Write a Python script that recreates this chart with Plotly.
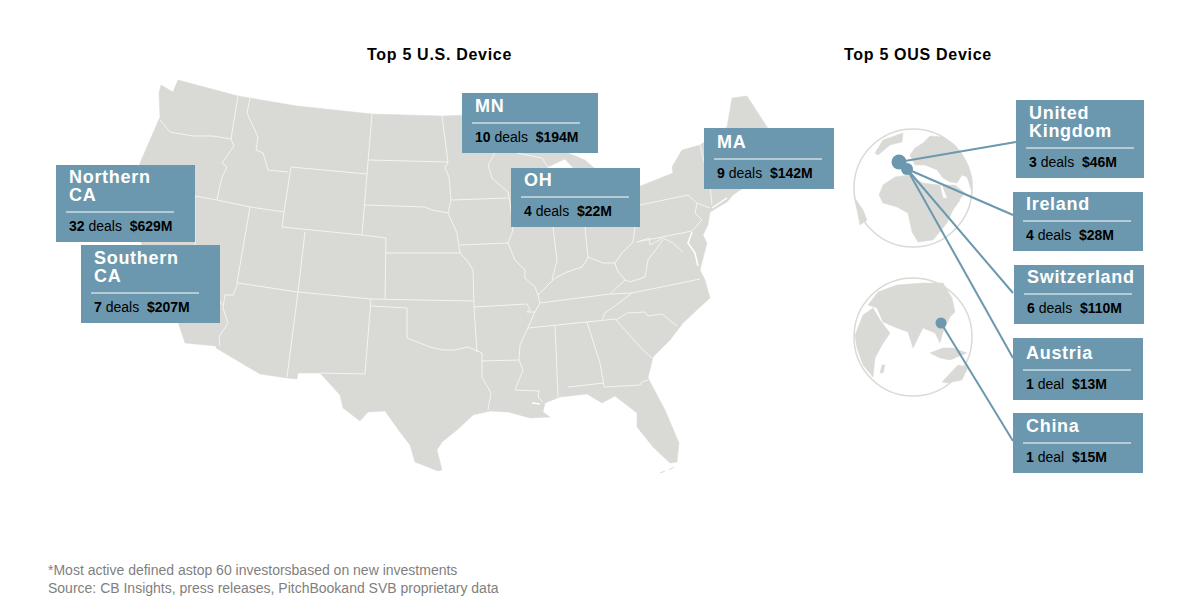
import plotly.graph_objects as go

# deal table, left panel then right panel
US_REGIONS = [["Northern", "CA"], ["Southern", "CA"], ["MN"], ["OH"], ["MA"]]
US_DEALS = [32, 7, 10, 4, 9]
US_AMOUNTS = [629, 207, 194, 22, 142]

OUS_REGIONS = [["United", "Kingdom"], ["Ireland"], ["Switzerland"], ["Austria"], ["China"]]
OUS_DEALS = [3, 4, 6, 1, 1]
OUS_AMOUNTS = [46, 28, 110, 13, 15]

TITLES = ["Top 5 U.S. Device", "Top 5 OUS Device"]
FOOTNOTES = [
    "*Most active defined astop 60 investorsbased on new investments",
    "Source: CB Insights, press releases, PitchBookand SVB proprietary data",
]

BOX_COLOR = "#6b98ae"
LAND_COLOR = "#d9dad6"
LINE_COLOR = "#f4f4f2"

# box corners in page pixels: x0, y0, x1, y1
US_BOXES = [
    (56, 165, 195, 242),
    (81, 245, 220, 323),
    (462, 93, 598, 153),
    (511, 168, 640, 227),
    (704, 128, 834, 189),
]
OUS_BOXES = [
    (1016, 100, 1144, 178),
    (1013, 192, 1143, 251),
    (1014, 265, 1144, 324),
    (1013, 338, 1143, 400),
    (1013, 413, 1143, 473),
]

# traced base map, page pixels
US_OUTLINE = [
    (178, 80), (238, 96), (250, 98), (297, 106), (372, 114), (442, 116), (470, 115), (500, 125),
    (530, 132), (560, 150), (573, 155), (585, 160), (593, 167), (600, 172), (575, 172), (573, 168),
    (565, 159), (556, 163), (548, 167), (546, 172), (545, 210), (560, 210), (562, 175), (610, 175),
    (630, 190), (643, 185), (673, 173), (672, 167), (682, 150), (700, 145), (727, 127), (732, 98),
    (738, 97), (747, 96), (767, 127), (790, 150), (760, 165), (745, 175), (743, 188), (733, 195),
    (727, 202), (710, 212), (708, 225), (703, 235), (707, 243), (703, 258), (700, 270), (705, 280),
    (710, 298), (700, 307), (683, 323), (670, 340), (653, 357), (648, 378), (665, 410), (679, 443),
    (677, 462), (670, 463), (653, 447), (637, 427), (637, 413), (615, 396), (602, 403), (587, 394),
    (560, 397), (545, 403), (543, 412), (550, 417), (530, 418), (508, 412), (490, 411), (473, 415),
    (457, 430), (442, 442), (437, 450), (442, 470), (438, 471), (415, 462), (410, 445), (400, 432),
    (385, 411), (368, 412), (360, 421), (343, 408), (340, 395), (320, 373), (298, 373), (297, 379),
    (287, 378), (260, 374), (216, 348), (216, 346), (185, 343), (178, 322), (160, 290), (140, 240),
    (135, 200), (140, 163), (160, 117), (159, 93), (161, 85), (173, 92),
]

STATE_LINES = [
    [(238, 96), (231, 139)],
    [(160, 120), (170, 132), (193, 136), (213, 136), (231, 139)],
    [(231, 139), (234, 146), (222, 163), (227, 167), (222, 177), (217, 200)],
    [(195, 196), (217, 200), (250, 207), (284, 212)],
    [(284, 212), (291, 167), (367, 174), (362, 235), (282, 227), (284, 212)],
    [(250, 98), (247, 113), (258, 137), (256, 150), (263, 153), (268, 170), (288, 172)],
    [(372, 114), (367, 174)],
    [(369, 160), (448, 162)],
    [(442, 116), (445, 140), (448, 162), (445, 168), (449, 177), (451, 200)],
    [(365, 205), (425, 207), (432, 210), (448, 213)],
    [(451, 200), (448, 213), (457, 233), (460, 253), (468, 262), (473, 270), (474, 307), (477, 352)],
    [(362, 235), (386, 238), (385, 299)],
    [(386, 253), (460, 253)],
    [(250, 207), (237, 283)],
    [(305, 232), (298, 292)],
    [(238, 283), (298, 292), (371, 299), (473, 301)],
    [(195, 196), (195, 245), (222, 305)],
    [(238, 283), (233, 295), (225, 295), (223, 308), (228, 323), (219, 337), (220, 346)],
    [(298, 292), (287, 377)],
    [(371, 299), (365, 374), (320, 373)],
    [(371, 306), (407, 308), (407, 338), (417, 342), (430, 347), (443, 350), (455, 350), (468, 347), (482, 353)],
    [(482, 353), (482, 377), (491, 393), (488, 410)],
    [(482, 361), (519, 360)],
    [(474, 307), (527, 304), (530, 310), (527, 312), (535, 312), (528, 328), (520, 345), (519, 360),
     (523, 370), (515, 390), (539, 391), (538, 397), (543, 402)],
    [(451, 200), (508, 198)],
    [(460, 245), (508, 243)],
    [(495, 153), (488, 165), (492, 178), (508, 192), (510, 203), (513, 230), (508, 243), (515, 260),
     (525, 270), (525, 278), (535, 287), (538, 295), (540, 303), (535, 312)],
    [(517, 153), (542, 158), (548, 167)],
    [(528, 328), (587, 322), (616, 319)],
    [(555, 325), (558, 397)],
    [(587, 322), (600, 363), (604, 386)],
    [(568, 387), (604, 383)],
    [(604, 387), (640, 385), (642, 382), (648, 380)],
    [(616, 320), (643, 350), (652, 358)],
    [(616, 320), (627, 313), (645, 312), (648, 316), (662, 314), (677, 326)],
    [(602, 320), (605, 313), (623, 300), (632, 293)],
    [(540, 303), (610, 294), (632, 293), (700, 279)],
    [(610, 294), (625, 280), (617, 270), (615, 263)],
    [(625, 280), (630, 282), (645, 277), (648, 260), (663, 240)],
    [(553, 227), (557, 260), (552, 280)],
    [(585, 227), (588, 258), (582, 267), (567, 272), (555, 278), (538, 295)],
    [(588, 257), (603, 263), (615, 263), (622, 253), (633, 242), (635, 227)],
    [(637, 242), (692, 231)],
    [(637, 242), (649, 238), (650, 245), (663, 238), (673, 243), (683, 252)],
    [(640, 205), (688, 195), (697, 203), (695, 213), (702, 220), (692, 231)],
    [(697, 203), (710, 208)],
    [(712, 205), (710, 185), (700, 145)],
]

# bays that show as white cuts in the coast
WATER_CUTS = [
    [(692, 232), (688, 243), (695, 253), (698, 266)],
    [(712, 208), (727, 198)],
    [(532, 403), (540, 404)],
]

FLORIDA_KEYS = [
    [(660, 473), (665, 471)],
    [(669, 470), (674, 467)],
]

GLOBE_CENTERS = [(913, 188), (913, 337)]
GLOBE_RADIUS = 59

LAND_WEST = [
    [(879, 195), (883, 185), (895, 177), (908, 175), (923, 183), (940, 185), (943, 198), (960, 200),
     (953, 210), (947, 223), (933, 240), (918, 242), (912, 232), (908, 213), (897, 207), (883, 203)],
    [(910, 155), (915, 148), (923, 143), (930, 136), (943, 137), (955, 145), (965, 160), (972, 178),
     (972, 192), (967, 177), (962, 175), (957, 183), (950, 182), (943, 178), (937, 170), (925, 165),
     (915, 165)],
    [(942, 185), (955, 185), (965, 193), (955, 205), (948, 200)],
    [(875, 153), (883, 140), (903, 133), (902, 142), (890, 145), (878, 155)],
    [(855, 198), (863, 210), (867, 220), (860, 225), (857, 210)],
    [(940, 223), (945, 223), (940, 232)],
]
LAND_EAST = [
    [(868, 305), (878, 292), (897, 285), (923, 283), (943, 283), (952, 298), (955, 312), (950, 317),
     (943, 332), (940, 343), (935, 333), (923, 328), (913, 348), (908, 332), (897, 328), (883, 322),
     (877, 308)],
    [(855, 335), (863, 315), (873, 308), (880, 320), (890, 333), (882, 345), (875, 358), (873, 377),
     (863, 365), (857, 348)],
    [(882, 365), (885, 365), (883, 373), (880, 373)],
    [(942, 382), (958, 365), (968, 367), (962, 380), (947, 383)],
    [(930, 353), (940, 358), (950, 360), (967, 353), (953, 348), (943, 348)],
]

EUROPE_DOTS = [(899, 162), (907, 169)]
CHINA_DOT = (941, 323)
LEADERS = [
    (EUROPE_DOTS[0], (1016, 142)),
    (EUROPE_DOTS[1], (1013, 215)),
    (EUROPE_DOTS[1], (1013, 293)),
    (EUROPE_DOTS[1], (1013, 358)),
    (CHINA_DOT, (1013, 441)),
]


def polygon_xy(polygons):
    xs, ys = [], []
    for poly in polygons:
        for x, y in list(poly) + [poly[0]]:
            xs.append(x)
            ys.append(y)
        xs.append(None)
        ys.append(None)
    return xs, ys


def line_xy(lines):
    xs, ys = [], []
    for line in lines:
        for x, y in line:
            xs.append(x)
            ys.append(y)
        xs.append(None)
        ys.append(None)
    return xs, ys


def spaced(text, px):
    # the source text is tracked out a little, plotly passes this style through
    return f'<span style="letter-spacing:{px}px">{text}</span>'


fig = go.Figure()

# globes go under the land
for cx, cy in GLOBE_CENTERS:
    fig.add_shape(
        type="circle",
        x0=cx - GLOBE_RADIUS, x1=cx + GLOBE_RADIUS,
        y0=cy - GLOBE_RADIUS, y1=cy + GLOBE_RADIUS,
        line=dict(color="#d9dad6", width=1.5),
        layer="below",
    )

land_x, land_y = polygon_xy([US_OUTLINE] + LAND_WEST + LAND_EAST)
fig.add_trace(go.Scatter(
    x=land_x, y=land_y, mode="lines", fill="toself",
    fillcolor=LAND_COLOR, line=dict(color=LAND_COLOR, width=0.5), hoverinfo="skip",
))

keys_x, keys_y = line_xy(FLORIDA_KEYS)
fig.add_trace(go.Scatter(
    x=keys_x, y=keys_y, mode="lines",
    line=dict(color=LAND_COLOR, width=1), hoverinfo="skip",
))

state_x, state_y = line_xy(STATE_LINES)
fig.add_trace(go.Scatter(
    x=state_x, y=state_y, mode="lines",
    line=dict(color=LINE_COLOR, width=1), hoverinfo="skip",
))

water_x, water_y = line_xy(WATER_CUTS)
fig.add_trace(go.Scatter(
    x=water_x, y=water_y, mode="lines",
    line=dict(color="white", width=1.5), hoverinfo="skip",
))

leader_x, leader_y = line_xy(LEADERS)
fig.add_trace(go.Scatter(
    x=leader_x, y=leader_y, mode="lines",
    line=dict(color=BOX_COLOR, width=2), hoverinfo="skip",
))

fig.add_trace(go.Scatter(
    x=[p[0] for p in EUROPE_DOTS + [CHINA_DOT]],
    y=[p[1] for p in EUROPE_DOTS + [CHINA_DOT]],
    mode="markers",
    marker=dict(color=BOX_COLOR, size=[15, 12, 11], opacity=1, line=dict(width=0, color=BOX_COLOR)),
    hoverinfo="skip",
))


def add_card(box, region_lines, deals, amount):
    x0, y0, x1, y1 = box
    fig.add_shape(type="rect", x0=x0, x1=x1, y0=y0, y1=y1,
                  fillcolor=BOX_COLOR, line=dict(width=0), layer="above")
    rule_y = y1 - 30
    fig.add_shape(type="line", x0=x0 + 10, x1=x0 + 118, y0=rule_y, y1=rule_y,
                  line=dict(color="white", width=1), layer="above")
    for i, text in enumerate(region_lines):
        y = rule_y - 17 - 18 * (len(region_lines) - 1 - i)
        fig.add_annotation(x=x0 + 11, y=y, text=f"<b>{spaced(text, 0.7)}</b>", showarrow=False,
                           xanchor="left", yanchor="middle",
                           font=dict(size=18, color="white"))
    word = "deal" if deals == 1 else "deals"
    fig.add_annotation(x=x0 + 11, y=y1 - 16,
                       text=f"<b>{deals}</b> {word}  <b>${amount}M</b>",
                       showarrow=False, xanchor="left", yanchor="middle",
                       font=dict(size=14, color="black"))


for box, region, deals, amount in zip(US_BOXES, US_REGIONS, US_DEALS, US_AMOUNTS):
    add_card(box, region, deals, amount)
for box, region, deals, amount in zip(OUS_BOXES, OUS_REGIONS, OUS_DEALS, OUS_AMOUNTS):
    add_card(box, region, deals, amount)

for title, cx in zip(TITLES, [439.5, 917.5]):
    fig.add_annotation(x=cx, y=54, text=f"<b>{spaced(title, 0.7)}</b>", showarrow=False,
                       font=dict(size=16, color="black"))

for note, y in zip(FOOTNOTES, [570, 588]):
    fig.add_annotation(x=46, y=y, text=note, showarrow=False, xanchor="left",
                       font=dict(size=14, color="#7f7f7f"))

fig.update_layout(
    width=1182,
    height=597,
    margin=dict(l=0, r=0, t=0, b=0),
    paper_bgcolor="white",
    plot_bgcolor="white",
    showlegend=False,
    font=dict(family="Liberation Sans, Arial, sans-serif"),
    xaxis=dict(range=[0, 1182], visible=False, fixedrange=True),
    yaxis=dict(range=[597, 0], visible=False, fixedrange=True),
)

fig.write_html("out.html", config={"displayModeBar": False},
               post_script="document.body.style.margin='0';")
